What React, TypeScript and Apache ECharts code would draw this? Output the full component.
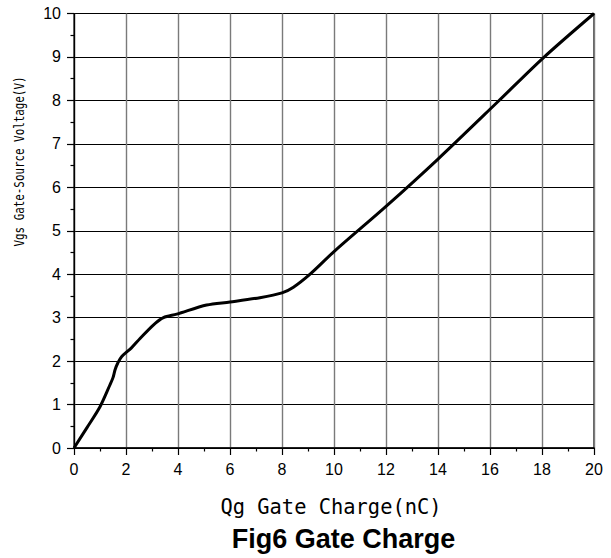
import React, { useEffect, useRef } from "react";
import * as echarts from "echarts";

const qgValues = [0, 0.5, 1.0, 1.38, 1.5, 1.58, 1.68, 1.83, 2.2, 2.54, 3.05, 3.44, 3.95, 5.1, 6.0, 7.15, 8.0, 8.44, 9.08, 10, 12, 14, 16.32, 18.05, 20];
const vgsValues = [0, 0.47, 0.95, 1.45, 1.62, 1.8, 1.95, 2.1, 2.3, 2.52, 2.83, 3.0, 3.08, 3.29, 3.36, 3.46, 3.57, 3.7, 4.0, 4.52, 5.56, 6.65, 7.98, 8.98, 10];

const xTitle = "Qg Gate Charge(nC)";
const yTitle = "Vgs Gate-Source Voltage(V)";
const figTitle = "Fig6 Gate Charge";

export default function App() {
  const ref = useRef<HTMLDivElement>(null);
  useEffect(() => {
    if (!ref.current) return;
    const chart = echarts.init(ref.current, undefined, { renderer: "svg" });
    const data = qgValues.map((q, i) => [q, vgsValues[i]]);
    chart.setOption({
      animation: false,
      backgroundColor: "#fff",
      grid: {
        left: 74,
        right: 17,
        top: 13.5,
        bottom: 110,
        show: true,
        borderColor: "#000",
        borderWidth: 1.2,
      },
      xAxis: {
        type: "value",
        min: 0,
        max: 20,
        interval: 2,
        axisLine: { show: true, lineStyle: { color: "#000", width: 1.6 } },
        axisTick: { show: true, length: 7, lineStyle: { color: "#000", width: 1.2 } },
        minorTick: { show: true, splitNumber: 2, length: 3.5, lineStyle: { color: "#000", width: 1.2 } },
        axisLabel: { color: "#000", fontSize: 16, fontFamily: "Liberation Sans, Arial, sans-serif", margin: 13 },
        splitLine: { show: true, lineStyle: { color: "#7a7a7a", width: 1.4 } },
      },
      yAxis: {
        type: "value",
        min: 0,
        max: 10,
        interval: 1,
        axisLine: { show: true, lineStyle: { color: "#000", width: 1.2 } },
        axisTick: { show: true, length: 7, lineStyle: { color: "#000", width: 1.2 } },
        minorTick: { show: true, splitNumber: 2, length: 3.5, lineStyle: { color: "#000", width: 1.2 } },
        axisLabel: { color: "#000", fontSize: 16, fontFamily: "Liberation Sans, Arial, sans-serif", margin: 13 },
        splitLine: { show: true, lineStyle: { color: "#000", width: 1 } },
      },
      series: [
        {
          type: "line",
          data,
          smooth: 0.3,
          showSymbol: false,
          lineStyle: { color: "#000", width: 3 },
        },
      ],
      graphic: [
        {
          type: "text",
          x: 331,
          y: 506.5,
          scaleX: 0.95,
          style: {
            text: xTitle,
            fill: "#000",
            fontSize: 21.5,
            fontFamily: "DejaVu Sans Mono, monospace",
            align: "center",
            verticalAlign: "middle",
          },
        },
        {
          type: "text",
          x: 18.7,
          y: 161.5,
          rotation: Math.PI / 2,
          scaleX: 0.75,
          style: {
            text: yTitle,
            fill: "#000",
            fontSize: 14.5,
            fontFamily: "DejaVu Sans Mono, monospace",
            align: "center",
            verticalAlign: "middle",
          },
        },
        {
          type: "text",
          x: 343.5,
          y: 538.7,
          style: {
            text: figTitle,
            fill: "#000",
            fontSize: 27,
            fontWeight: "bold",
            fontFamily: "Liberation Sans, Arial, sans-serif",
            align: "center",
            verticalAlign: "middle",
          },
        },
      ],
    });
    return () => chart.dispose();
  }, []);
  return (
    <div
      ref={ref}
      style={{ position: "fixed", left: 0, top: 0, width: 611, height: 558, background: "#fff" }}
    />
  );
}
